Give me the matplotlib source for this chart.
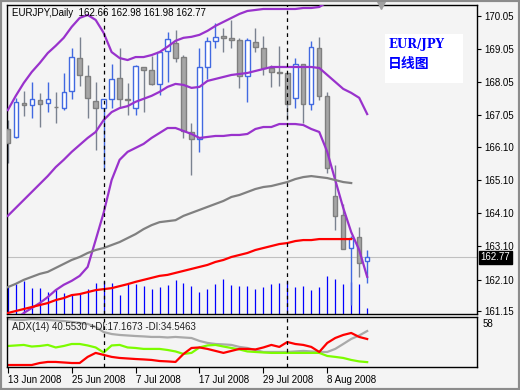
import numpy as np
import pandas as pd
import matplotlib
matplotlib.use("Agg")
import matplotlib.pyplot as plt
from matplotlib.patches import Rectangle

plt.rcParams["font.family"] = ["Liberation Sans", "DejaVu Sans"]

# ---- values ----
SYMBOL = "EURJPY"
PERIOD = "Daily"
dates = pd.bdate_range("2008-06-13", "2008-08-15")

opens = [166.64, 166.40, 167.43, 167.37, 167.52, 167.43, 167.30, 167.27, 167.79, 168.78,
         168.24, 167.49, 167.27, 167.55, 168.18, 167.55, 167.27, 168.51, 168.42, 168.00,
         168.99, 169.24, 168.81, 166.55, 166.34, 168.51, 169.30, 169.45, 169.39, 169.33,
         168.24, 169.27, 169.08, 168.48, 168.36, 168.33, 167.58, 168.60, 167.40, 169.08,
         167.64, 164.62, 164.05, 163.05, 163.38, 162.66]
highs = [166.91, 167.58, 167.79, 168.06, 167.73, 168.06, 167.76, 168.33, 169.08, 169.42,
         168.57, 168.06, 167.55, 168.60, 169.08, 168.03, 168.57, 168.51, 168.84, 168.99,
         169.57, 169.63, 168.87, 166.82, 169.08, 169.42, 169.84, 169.69, 169.93, 169.39,
         169.39, 169.69, 169.45, 168.57, 169.15, 168.33, 168.78, 168.60, 169.30, 169.42,
         167.76, 165.56, 164.38, 163.41, 163.68, 162.98]
lows = [165.62, 166.37, 167.03, 166.97, 166.70, 167.15, 166.82, 167.22, 167.55, 167.94,
        166.97, 166.01, 165.40, 167.27, 167.30, 167.06, 167.06, 167.15, 167.97, 167.67,
        168.06, 168.66, 166.37, 165.25, 165.95, 168.15, 169.08, 168.96, 169.08, 167.88,
        167.46, 168.96, 168.27, 167.91, 167.94, 166.91, 167.27, 166.82, 167.21, 167.52,
        165.31, 163.59, 163.02, 161.33, 162.18, 161.98]
closes = [166.22, 167.46, 167.37, 167.55, 167.40, 167.55, 167.29, 167.76, 168.81, 168.27,
          167.58, 167.27, 167.55, 168.15, 167.55, 167.52, 168.54, 168.42, 168.00, 168.96,
          169.36, 168.78, 166.58, 166.34, 168.51, 169.30, 169.42, 169.39, 169.33, 168.24,
          169.33, 169.12, 168.48, 168.36, 168.33, 167.40, 168.60, 167.40, 169.12, 167.64,
          165.47, 164.02, 163.02, 163.35, 162.60, 162.77]
volume = [2800, 3000, 3300, 2600, 2600, 2200, 2500, 2100, 2000, 2100,
          2500, 3100, 3300, 3100, 1900, 3000, 3000, 2800, 2500, 2700,
          2900, 3400, 3100, 2800, 2200, 2500, 3000, 3500, 2900, 2800,
          2800, 2500, 2700, 3000, 3100, 3300, 2700, 2800, 2400, 2700,
          3800, 3500, 3000, 3200, 3000, 600]

band_upper = [167.21, 167.64, 168.03, 168.36, 168.63, 168.93, 169.15, 169.39, 169.72, 169.99,
              170.08, 169.93, 169.54, 168.96, 168.78, 168.72, 168.81, 168.81, 168.87, 168.96,
              169.12, 169.30, 169.39, 169.42, 169.48, 169.60, 169.75, 169.87, 169.99, 170.11,
              170.20, 170.23, 170.26, 170.26, 170.26, 170.26, 170.26, 170.29, 170.29, 170.32,
              170.47, np.nan, np.nan, np.nan, np.nan, np.nan]
band_middle = [164.02, 164.26, 164.50, 164.74, 164.98, 165.22, 165.49, 165.71, 165.95, 166.16,
               166.37, 166.55, 166.91, 167.15, 167.27, 167.33, 167.46, 167.55, 167.64, 167.76,
               167.91, 168.00, 167.97, 167.88, 167.91, 168.09, 168.15, 168.21, 168.27, 168.30,
               168.33, 168.39, 168.45, 168.51, 168.51, 168.51, 168.51, 168.51, 168.51, 168.48,
               168.27, 168.06, 167.85, 167.73, 167.58, 167.09]
band_lower = [np.nan, 160.91, 161.09, 161.24, 161.39, 161.57, 161.78, 161.94, 162.06, 162.21,
              162.48, 163.29, 164.11, 165.10, 165.71, 165.95, 166.07, 166.19, 166.37, 166.52,
              166.67, 166.67, 166.58, 166.49, 166.37, 166.40, 166.43, 166.43, 166.46, 166.46,
              166.49, 166.64, 166.70, 166.70, 166.79, 166.79, 166.79, 166.76, 166.64, 166.55,
              165.95, 165.10, 164.26, 163.53, 162.99, 162.18]
ma_gray = [161.87, 161.97, 162.09, 162.18, 162.27, 162.33, 162.45, 162.57, 162.69, 162.78,
           162.90, 162.99, 163.05, 163.14, 163.23, 163.35, 163.47, 163.62, 163.74, 163.83,
           163.86, 163.89, 164.02, 164.11, 164.20, 164.29, 164.38, 164.47, 164.59, 164.65,
           164.74, 164.83, 164.89, 164.92, 164.98, 165.04, 165.13, 165.19, 165.22, 165.19,
           165.16, 165.10, 165.04, 165.01, np.nan, np.nan]
ma_red = [161.09, 161.15, 161.21, 161.27, 161.33, 161.39, 161.48, 161.54, 161.63, 161.66,
          161.72, 161.78, 161.81, 161.84, 161.90, 161.96, 162.03, 162.09, 162.15, 162.21,
          162.24, 162.30, 162.36, 162.42, 162.48, 162.54, 162.63, 162.69, 162.78, 162.84,
          162.90, 162.99, 163.05, 163.11, 163.17, 163.20, 163.26, 163.29, 163.29, 163.32,
          163.32, 163.32, 163.32, 163.32, np.nan, np.nan]

adx = [49.6, 48.9, 48.9, 49.6, 49.2, 48.9, 48.5, 48.1, 47.4, 46.6,
       45.9, 43.6, 39.8, 38.3, 37.6, 37.2, 36.8, 36.5, 36.1, 36.1,
       35.7, 36.1, 35.7, 35.3, 33.1, 31.6, 30.8, 30.5, 30.1, 28.6,
       27.8, 26.3, 24.8, 24.8, 24.8, 24.8, 25.2, 25.6, 25.2, 24.8,
       24.8, 27.1, 30.8, 34.6, 37.2, 40.5530]
plus_di = [29.3, 29.7, 30.1, 28.9, 29.3, 30.1, 28.2, 29.3, 30.8, 30.8,
           29.7, 28.2, 24.4, 29.7, 30.1, 28.2, 27.8, 27.1, 27.1, 27.1,
           26.3, 25.2, 23.3, 24.1, 28.2, 29.7, 30.1, 28.9, 27.8, 26.7,
           25.2, 24.8, 24.4, 24.1, 24.1, 24.1, 24.1, 24.1, 24.1, 24.1,
           21.8, 21.1, 20.3, 18.8, 17.7, 17.1673]
minus_di = [15.0, 15.0, 15.0, 15.0, 16.5, 17.3, 17.3, 16.9, 16.5, 16.5,
            21.1, 24.1, 22.6, 21.1, 20.3, 19.9, 19.5, 19.2, 18.8, 18.0,
            17.7, 17.3, 23.3, 27.8, 28.2, 27.1, 25.6, 24.1, 25.6, 27.1,
            27.1, 26.7, 28.2, 30.1, 28.6, 32.3, 30.8, 30.1, 28.6, 24.8,
            31.6, 35.3, 37.6, 39.1, 36.1, 34.5463]

price_ticks = [170.05, 169.05, 168.05, 167.05, 166.10, 165.10, 164.10, 163.10, 162.10, 161.15]
adx_scale_max = 58
VOL_FULL = 30900   # volume that would fill the whole price window

BG = "#f4f4f4"
idx = np.arange(len(dates))
o = np.array(opens); h = np.array(highs); l = np.array(lows); c = np.array(closes)
bull = c >= o

fig = plt.figure(figsize=(5.2, 3.9), dpi=100, facecolor=BG)
ax = fig.add_axes([7 / 520, 1 - 314 / 390, 470 / 520, 309 / 390], facecolor=BG)
ax2 = fig.add_axes([7 / 520, 1 - 367 / 390, 470 / 520, 50 / 390], facecolor=BG, sharex=ax)

# volume, drawn in the price window from its bottom edge
ax.vlines(idx, 0, np.array(volume) / VOL_FULL, transform=ax.get_xaxis_transform(),
          colors="#0000ff", lw=0.9, zorder=1)
ax.axhline(c[-1], color="#c0c0c0", lw=0.8, zorder=1)

# candles
ax.vlines(idx, l, h, colors=np.where(bull, "#4169e1", "#7a8290"), lw=1.0, zorder=2)
ax.bar(idx[bull], (c - o)[bull], bottom=o[bull], width=0.55,
       facecolor="white", edgecolor="#4169e1", lw=1.0, zorder=3)
ax.bar(idx[~bull], (c - o)[~bull], bottom=o[~bull], width=0.55,
       facecolor="#a6a6a6", edgecolor="#7f7f7f", lw=1.0, zorder=3)

# overlays
for band in (band_upper, band_middle, band_lower):
    ax.plot(idx, band, color="#9932cc", lw=1.6, zorder=4)
ax.plot(idx, ma_gray, color="#808080", lw=1.6, zorder=4)
ax.plot(idx, ma_red, color="#ff0000", lw=1.6, zorder=4)

# ADX window
ax2.plot(idx, adx, color="#a9a9a9", lw=1.6)
ax2.plot(idx, plus_di, color="#7cfc00", lw=1.6)
ax2.plot(idx, minus_di, color="#ff0000", lw=1.6)

# monthly period separators
month_starts = idx[1:][dates.month[1:] != dates.month[:-1]]
for a in (ax, ax2):
    for m in month_starts:
        a.axvline(m, color="black", lw=0.9, ls=(0, (3, 3)), zorder=5)
    for s in a.spines.values():
        s.set_color("black")
        s.set_linewidth(1.0)

ax.set_xlim(-0.1, 58.75)
ax.set_ylim(161.06, 170.38)
ax2.set_ylim(13.5, 51.1)

ax.yaxis.tick_right()
ax.set_yticks(price_ticks)
ax.set_yticklabels([f"{p:.2f}" for p in price_ticks])
ax.tick_params(axis="y", length=3, pad=2, labelsize=7, direction="out")
ax.tick_params(axis="x", bottom=False, labelbottom=False)

ax2.set_yticks([])
ax2.text(1.012, 0.86, str(adx_scale_max), transform=ax2.transAxes, fontsize=7, va="center")
tick_pos = idx[::8]
ax2.set_xticks(tick_pos)
ax2.set_xticklabels([f"{d.day} {d:%b %Y}" for d in dates[tick_pos]], ha="left")
ax2.tick_params(axis="x", length=4, pad=2, labelsize=7)

# current price tag
ax.text(1.008, c[-1], f"{c[-1]:.2f}", transform=ax.get_yaxis_transform(), fontsize=7,
        color="white", va="center", ha="left",
        bbox=dict(boxstyle="square,pad=0.15", facecolor="black", edgecolor="black"))

# headers
ax.text(0.011, 0.974, f"{SYMBOL},{PERIOD}  {o[-1]:.2f} {h[-1]:.2f} {l[-1]:.2f} {c[-1]:.2f}",
        transform=ax.transAxes, fontsize=7, va="center", ha="left", zorder=6)
ax2.text(0.011, 0.80, f"ADX(14) {adx[-1]:.4f} +DI:{plus_di[-1]:.4f} -DI:{minus_di[-1]:.4f}",
         transform=ax2.transAxes, fontsize=7, va="center", ha="left", color="#202020", zorder=6)

# label box
ax.add_patch(Rectangle((0.804, 0.748), 0.166, 0.158, transform=ax.transAxes,
                       facecolor="white", edgecolor="none", zorder=6))
ax.text(0.811, 0.871, "EUR/JPY", transform=ax.transAxes, fontsize=8.5, fontweight="bold",
        family="DejaVu Serif", color="#0000ff", va="center", zorder=7)
ax.text(0.811, 0.810, "日线图", transform=ax.transAxes, fontsize=10, fontweight="bold",
        family=["Noto Sans CJK SC", "DejaVu Sans"], color="#0000ff", va="center", zorder=7)

# chart shift marker
ax.plot([len(idx) + 0.75], [1.0], marker="v", ms=6, color="#a0a0a0",
        transform=ax.get_xaxis_transform(), clip_on=False, zorder=6)

fig.add_artist(Rectangle((0, 0), 1, 1, transform=fig.transFigure, fill=False,
                         edgecolor="#8c8c8c", lw=3))

fig.savefig("out.png", dpi=100, facecolor=BG)
